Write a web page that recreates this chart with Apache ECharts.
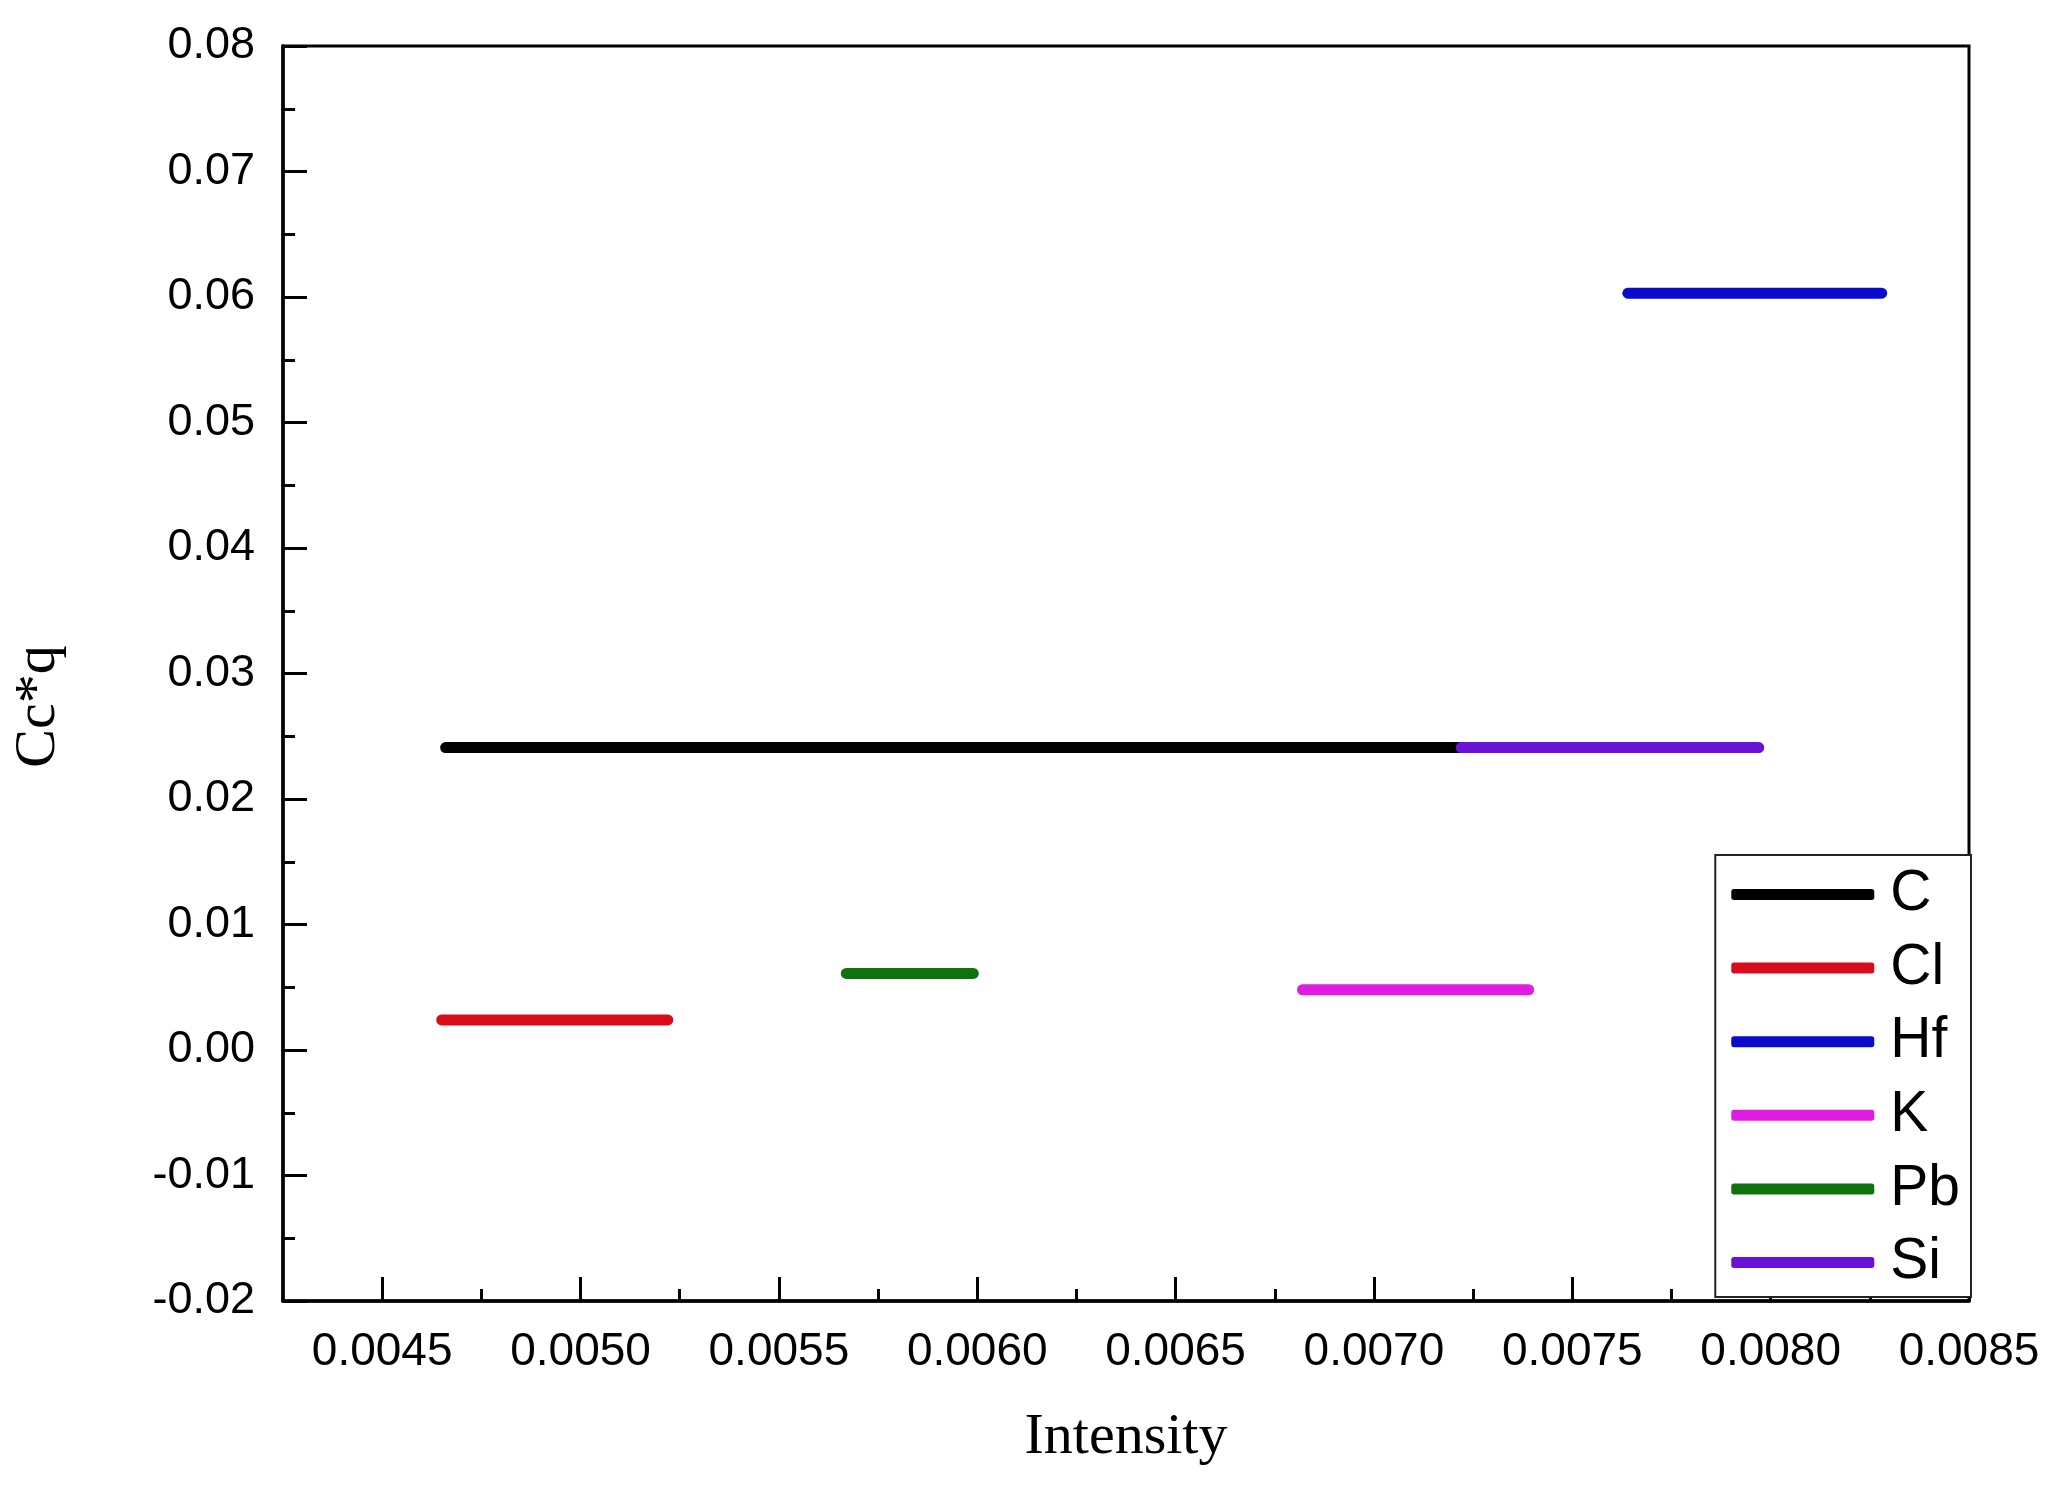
<!DOCTYPE html>
<html>
<head>
<meta charset="utf-8">
<title>Cc*q vs Intensity</title>
<script src="https://cdn.jsdelivr.net/npm/echarts@6/dist/echarts.min.js"></script>
<style>
  html, body { margin: 0; padding: 0; background: #fff; }
  #chart { width: 2054px; height: 1507px; }
</style>
</head>
<body>
<div id="chart"></div>
<script>
// elements and their horizontal segments (Intensity range at a constant Cc*q)
const elements = ['C', 'Cl', 'Hf', 'K', 'Pb', 'Si']
const xStart = [0.00466, 0.00465, 0.00764, 0.00682, 0.00567, 0.00722]
const xEnd   = [0.00722, 0.00522, 0.00828, 0.00739, 0.00599, 0.00797]
const yValue = [0.0241, 0.0024, 0.0603, 0.0048, 0.0061, 0.0241]
const colors = ['#000000', '#d90c1c', '#0b0bcc', '#e01ce0', '#0f720f', '#6a12d8']

// tick labels
const xTicks = [0.0045, 0.0050, 0.0055, 0.0060, 0.0065, 0.0070, 0.0075, 0.0080, 0.0085]
const xMinorTicks = [0.00475, 0.00525, 0.00575, 0.00625, 0.00675, 0.00725, 0.00775, 0.00825]

const sans = "'Liberation Sans', Arial, sans-serif"
const serif = "'Liberation Serif', 'Times New Roman', serif"

const chart = echarts.init(document.getElementById('chart'))

const series = []
for (let i = 0; i < elements.length; i++) {
	series.push({
		name: elements[i],
		type: 'line',
		symbol: 'none',
		silent: true,
		data: [[xStart[i], yValue[i]], [xEnd[i], yValue[i]]],
		lineStyle: { color: colors[i], width: 11, cap: 'round' },
		itemStyle: { color: colors[i] }
	})
}

const option = {
	backgroundColor: '#fff',
	animation: false,
	grid: {
		left: 283,
		right: 85,
		top: 46,
		bottom: 206,
		show: true,
		borderColor: '#000',
		borderWidth: 3
	},
	legend: {
		orient: 'vertical',
		right: 83,
		bottom: 210,
		data: elements,
		icon: 'roundRect',
		itemWidth: 143,
		itemHeight: 11,
		itemGap: 16.6,
		padding: [11, 11, 6, 16],
		backgroundColor: '#fff',
		borderColor: '#222',
		borderWidth: 2,
		textStyle: { fontSize: 57, fontFamily: sans, color: '#000', padding: [0, 0, 0, 11] }
	},
	xAxis: [
		{
			type: 'value',
			min: 0.00425,
			max: 0.0085,
			name: 'Intensity',
			nameLocation: 'middle',
			nameGap: 108,
			nameTextStyle: { fontSize: 58, fontFamily: serif, color: '#000' },
			axisLine: { onZero: false, lineStyle: { color: '#000', width: 3.5 } },
			axisTick: { inside: true, length: 24, lineStyle: { color: '#000', width: 3 }, customValues: xTicks },
			axisLabel: {
				customValues: xTicks,
				margin: 28,
				fontSize: 46,
				fontFamily: sans,
				color: '#000',
				formatter: (v) => v.toFixed(4)
			},
			splitLine: { show: false }
		},
		{
			// minor ticks only
			type: 'value',
			position: 'bottom',
			min: 0.00425,
			max: 0.0085,
			axisLine: { show: false, onZero: false },
			axisTick: { inside: true, length: 12, lineStyle: { color: '#000', width: 3 }, customValues: xMinorTicks },
			axisLabel: { show: false },
			splitLine: { show: false }
		}
	],
	yAxis: {
		type: 'value',
		min: -0.02,
		max: 0.08,
		interval: 0.01,
		name: 'Cc*q',
		nameLocation: 'middle',
		nameRotate: 90,
		nameGap: 215,
		nameTextStyle: { fontSize: 58, fontFamily: serif, color: '#000', padding: [0, 66, 0, 0] },
		axisLine: { onZero: false, lineStyle: { color: '#000', width: 3.5 } },
		axisTick: { inside: true, length: 24, lineStyle: { color: '#000', width: 3 } },
		minorTick: { show: true, splitNumber: 2, length: 12, lineStyle: { color: '#000', width: 3 } },
		axisLabel: {
			margin: 28,
			fontSize: 45,
			fontFamily: sans,
			color: '#000',
			formatter: (v) => v.toFixed(2)
		},
		splitLine: { show: false }
	},
	series: series
}

chart.setOption(option)
</script>
</body>
</html>
